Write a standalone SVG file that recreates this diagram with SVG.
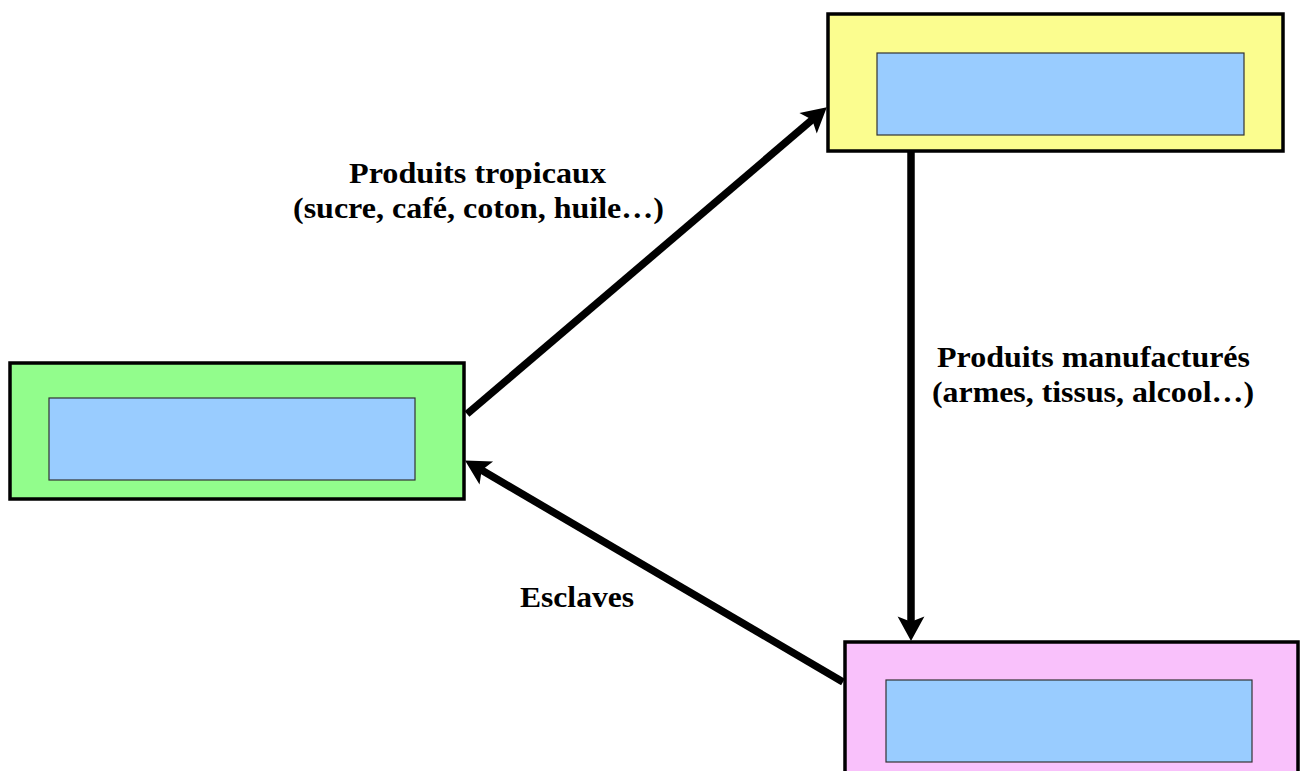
<svg xmlns="http://www.w3.org/2000/svg" width="1300" height="771" viewBox="0 0 1300 771">
<style>
.outer{stroke:#000;stroke-width:3.5}
.inner{fill:#99ccff;stroke:#333;stroke-width:1.2}
.lbl{font-family:"Liberation Serif","Times New Roman",serif;font-weight:bold;font-size:29px;fill:#000;text-anchor:middle}
.conn{stroke:#000;stroke-width:7.5;fill:none}
</style>
<defs>
<marker id="ah" markerUnits="userSpaceOnUse" markerWidth="30" markerHeight="30" viewBox="0 -14 26 28" refX="8" refY="0" orient="auto">
<path d="M23,0 L0,-12.5 L5,0 L0,12.5 Z" fill="#000"/>
</marker>
</defs>
<rect width="1300" height="771" fill="#fff"/>
<g id="node-europe">
<rect class="outer" x="828" y="14" width="455" height="137" fill="#fbfd8f"/>
<rect class="inner" x="877" y="53" width="367" height="82"/>
</g>
<g id="node-amerique">
<rect class="outer" x="10" y="363" width="454" height="136" fill="#92fd8c"/>
<rect class="inner" x="49" y="398" width="366" height="82"/>
</g>
<g id="node-afrique">
<rect class="outer" x="845" y="642" width="453" height="140" fill="#f9c1fb"/>
<rect class="inner" x="886" y="680" width="366" height="82"/>
</g>
<g id="connectors">
<line class="conn" x1="467" y1="414" x2="814.6" y2="117.7" marker-end="url(#ah)"/>
<line class="conn" x1="911" y1="152" x2="911" y2="625" marker-end="url(#ah)"/>
<line class="conn" x1="843" y1="682" x2="478.9" y2="468.6" marker-end="url(#ah)"/>
</g>
<g id="labels">
<text class="lbl" x="477.5" y="183" textLength="257" lengthAdjust="spacingAndGlyphs">Produits tropicaux</text>
<text class="lbl" x="478.5" y="218" textLength="371" lengthAdjust="spacingAndGlyphs">(sucre, café, coton, huile…)</text>
<text class="lbl" x="1093.5" y="367" textLength="313" lengthAdjust="spacingAndGlyphs">Produits manufacturés</text>
<text class="lbl" x="1093" y="402" textLength="322" lengthAdjust="spacingAndGlyphs">(armes, tissus, alcool…)</text>
<text class="lbl" x="577" y="607" textLength="114" lengthAdjust="spacingAndGlyphs">Esclaves</text>
</g>
</svg>
